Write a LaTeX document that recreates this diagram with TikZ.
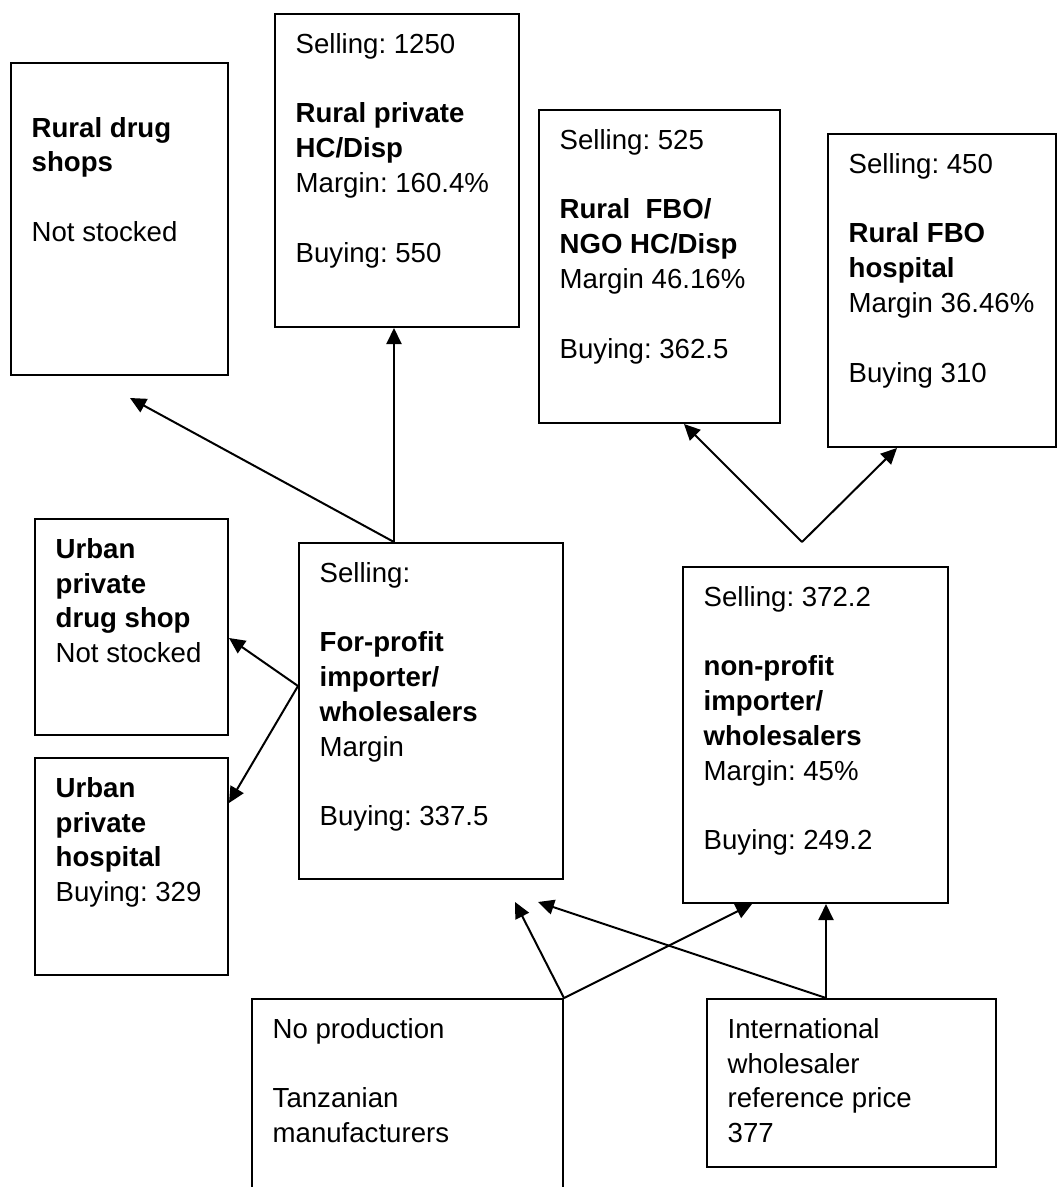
\documentclass[tikz,border=0pt]{standalone}
\usepackage{fontspec}
\setmainfont{Liberation Sans}
\usetikzlibrary{arrows.meta,calc}
\newcommand\myfirst{\rule{0pt}{21pt}}
\frenchspacing
\begin{document}
\begin{tikzpicture}[x=1pt,y=-1pt,
  box/.style={draw, line width=2pt, inner sep=0pt, anchor=north west},
  txt/.style={anchor=north west, inner sep=0pt, align=left,
    font=\fontsize{27.6pt}{34.8pt}\selectfont\frenchspacing},
  arr/.style={line width=2pt, -{Triangle[length=16pt,width=15pt]}}]
\useasboundingbox (0,0) rectangle (1057,1187);
\clip (0,0) rectangle (1057,1187);
% boxes
\node[box, minimum width=217pt, minimum height=312pt] (rds) at (10,62) {};
\node[box, minimum width=244pt, minimum height=313pt] (rph) at (274,13) {};
\node[box, minimum width=241pt, minimum height=313pt] (rfn) at (538,109) {};
\node[box, minimum width=228pt, minimum height=313pt] (rfh) at (827,133) {};
\node[box, minimum width=193pt, minimum height=216pt] (uds) at (34,518) {};
\node[box, minimum width=193pt, minimum height=217pt] (uph) at (34,757) {};
\node[box, minimum width=264pt, minimum height=336pt] (fp) at (298,542) {};
\node[box, minimum width=265pt, minimum height=336pt] (np) at (682,566) {};
\node[box, minimum width=311pt, minimum height=260pt] (tz) at (251,998) {};
\node[box, minimum width=289pt, minimum height=168pt] (iw) at (706,998) {};
% texts
\node[txt] (rdsT) at ([shift={(21.5,53.8)}]rds.north west)
  {\myfirst\textbf{Rural drug}\\ \textbf{shops}\\[34.8pt] Not stocked};
\node[txt] (rphT) at ([shift={(21.5,19)}]rph.north west)
  {\myfirst Selling: 1250\\[34.8pt] \textbf{Rural private}\\ \textbf{HC/Disp}\\ Margin: 160.4\%\\[34.8pt] Buying: 550};
\node[txt] (rfnT) at ([shift={(21.5,19)}]rfn.north west)
  {\myfirst Selling: 525\\[34.8pt] \textbf{Rural\ \ FBO/}\\ \textbf{NGO HC/Disp}\\ Margin 46.16\%\\[34.8pt] Buying: 362.5};
\node[txt] (rfhT) at ([shift={(21.5,19)}]rfh.north west)
  {\myfirst Selling: 450\\[34.8pt] \textbf{Rural FBO}\\ \textbf{hospital}\\ Margin 36.46\%\\[34.8pt] Buying 310};
\node[txt] (udsT) at ([shift={(21.5,19)}]uds.north west)
  {\myfirst\textbf{Urban}\\ \textbf{private}\\ \textbf{drug shop}\\ Not stocked};
\node[txt] (uphT) at ([shift={(21.5,19)}]uph.north west)
  {\myfirst\textbf{Urban}\\ \textbf{private}\\ \textbf{hospital}\\ Buying: 329};
\node[txt] (fpT) at ([shift={(21.5,19)}]fp.north west)
  {\myfirst Selling:\\[34.8pt] \textbf{For-profit}\\ \textbf{importer/}\\ \textbf{wholesalers}\\ Margin\\[34.8pt] Buying: 337.5};
\node[txt] (npT) at ([shift={(21.5,19)}]np.north west)
  {\myfirst Selling: 372.2\\[34.8pt] \textbf{non-profit}\\ \textbf{importer/}\\ \textbf{wholesalers}\\ Margin: 45\%\\[34.8pt] Buying: 249.2};
\node[txt] (tzT) at ([shift={(21.5,19)}]tz.north west)
  {\myfirst No production\\[34.8pt] Tanzanian\\ manufacturers};
\node[txt] (iwT) at ([shift={(21.5,19)}]iw.north west)
  {\myfirst International\\ wholesaler\\ reference price\\ 377};
% junctions and free ends
\coordinate (j1) at (394,542);
\coordinate (t1) at (130,398);
\coordinate (j2) at (298,686);
\coordinate (j3) at (802,542);
\coordinate (j4) at (tz.north east);
\coordinate (j5) at (826,998);
\coordinate (t6) at (515,902);
\coordinate (t8) at (538,902);
% connectors
\draw[arr] (j1) -- (j1 |- rph.south);
\draw[arr] (j1) -- (t1);
\draw[arr] (j2) -- ($(uds.north east)+(0,120)$);
\draw[arr] (j2) -- ($(uph.north east)+(0,46)$);
\draw[arr] (j3) -- ($(rfn.south west)+(146,0)$);
\draw[arr] (j3) -- ($(rfh.south west)+(70,0)$);
\draw[arr] (j4) -- (t6);
\draw[arr] (j4) -- ($(np.south west)+(70,0)$);
\draw[arr] (j5) -- (t8);
\draw[arr] (j5) -- (j5 |- np.south);
\end{tikzpicture}
\end{document}
